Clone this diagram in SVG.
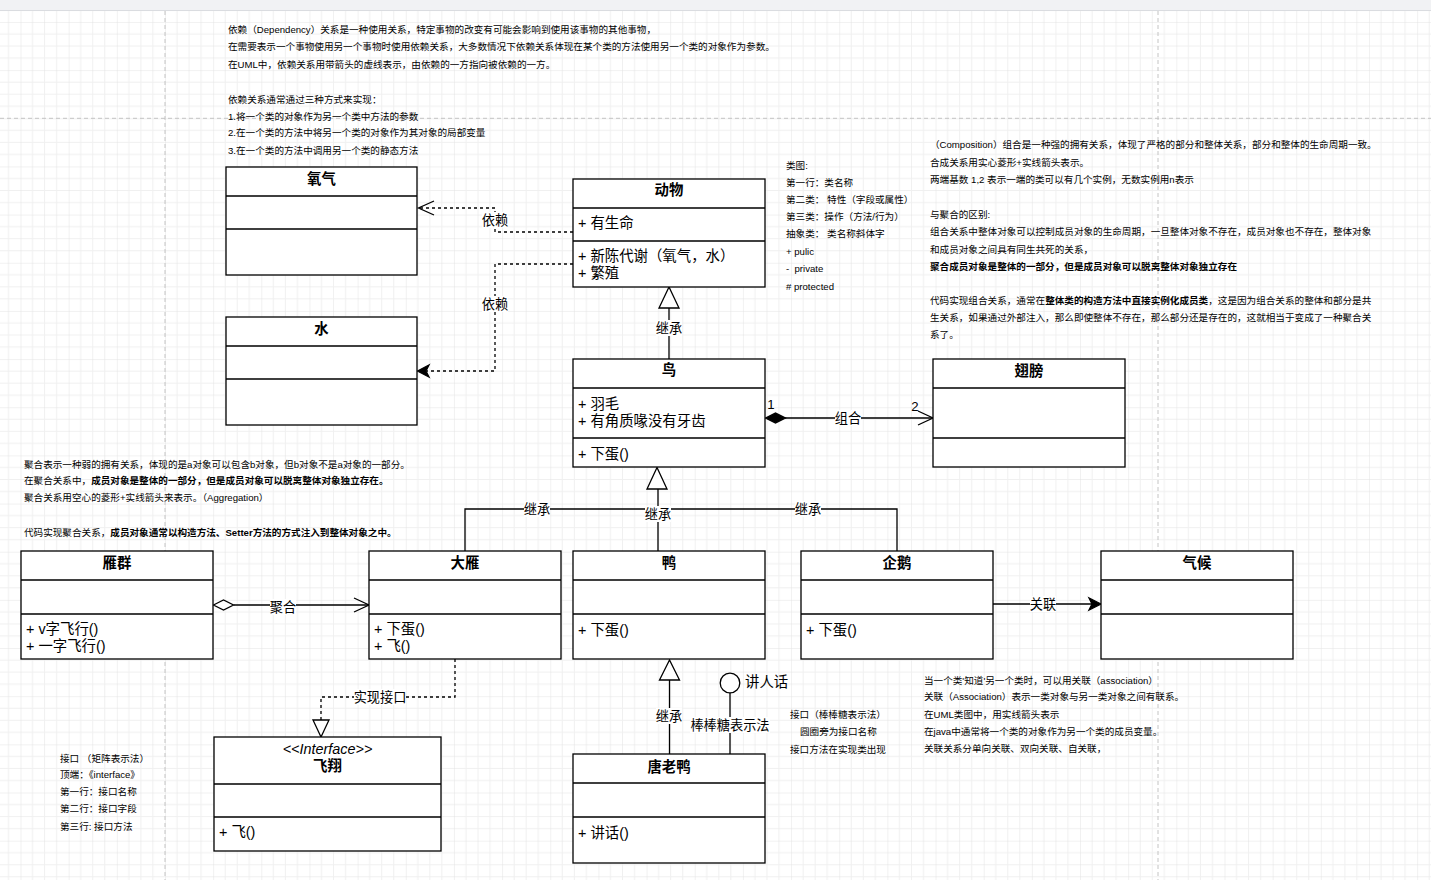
<svg xmlns="http://www.w3.org/2000/svg" width="1431" height="880" viewBox="0 0 1431 880">
<defs>
<pattern id="grid" x="20.5" y="-26.2" width="48.16" height="48.16" patternUnits="userSpaceOnUse">
<path d="M12.04 0V48.16M24.08 0V48.16M36.12 0V48.16M0 12.04H48.16M0 24.08H48.16M0 36.12H48.16" stroke="#f0f0f0" stroke-width="1" fill="none"/>
<path d="M0 0V48.16M0 0H48.16" stroke="#e3e3e3" stroke-width="1" fill="none"/>
</pattern>
<style>
text { font-family: "Liberation Sans", "Noto Sans CJK SC", sans-serif; fill: #000; }
.box { fill: #fff; stroke: #000; stroke-width: 1.3; }
.sep { stroke: #000; stroke-width: 1.3; fill: none; }
.h { font-size: 14.4px; font-weight: bold; text-anchor: middle; }
.m { font-size: 14.4px; }
.s { font-size: 9.6px; }
.b { font-weight: bold; }
.lbl { font-size: 13.2px; text-anchor: middle; }
.lblbg { fill: #fff; }
.ln { stroke: #000; stroke-width: 1.3; fill: none; }
.dash { stroke: #000; stroke-width: 1.3; fill: none; stroke-dasharray: 3 3; }
.pb { stroke: #c4c4c4; stroke-width: 1; stroke-dasharray: 4 3; fill: none; }
</style>
</defs>

<rect x="0" y="0" width="1431" height="880" fill="#fff"/>
<rect x="0" y="11" width="1431" height="869" fill="url(#grid)"/>
<rect x="0" y="0" width="1431" height="10.5" fill="#f1f2f4"/>
<line x1="0" y1="10.5" x2="1431" y2="10.5" stroke="#dadce0"/>
<path class="pb" d="M165 11V880M1158 11V880M0 118.3H1431"/>

<g id="notes">
<text class="s" x="228" y="32.5">依赖（Dependency）关系是一种使用关系，特定事物的改变有可能会影响到使用该事物的其他事物，</text>
<text class="s" x="228" y="49.5">在需要表示一个事物使用另一个事物时使用依赖关系，大多数情况下依赖关系体现在某个类的方法使用另一个类的对象作为参数。</text>
<text class="s" x="228" y="67.5">在UML中，依赖关系用带箭头的虚线表示，由依赖的一方指向被依赖的一方。</text>
<text class="s" x="228" y="102.5">依赖关系通常通过三种方式来实现：</text>
<text class="s" x="228" y="119.5">1.将一个类的对象作为另一个类中方法的参数</text>
<text class="s" x="228" y="135.5">2.在一个类的方法中将另一个类的对象作为其对象的局部变量</text>
<text class="s" x="228" y="153.5">3.在一个类的方法中调用另一个类的静态方法</text>

<text class="s" x="786" y="168.5">类图:</text>
<text class="s" x="786" y="185.5">第一行：类名称</text>
<text class="s" x="786" y="202.5">第二类： 特性（字段或属性）</text>
<text class="s" x="786" y="219.5">第三类：操作（方法/行为）</text>
<text class="s" x="786" y="236.5">抽象类： 类名称斜体字</text>
<text class="s" x="786" y="254.5">+ pulic</text>
<text class="s" x="786" y="271.5">-&#160; private</text>
<text class="s" x="786" y="289.5"># protected</text>

<text class="s" x="930" y="147.5">（Composition）组合是一种强的拥有关系，体现了严格的部分和整体关系，部分和整体的生命周期一致。</text>
<text class="s" x="930" y="165.5">合成关系用实心菱形+实线箭头表示。</text>
<text class="s" x="930" y="182.5">两端基数 1,2 表示一端的类可以有几个实例，无数实例用n表示</text>
<text class="s" x="930" y="217.5">与聚合的区别:</text>
<text class="s" x="930" y="234.5">组合关系中整体对象可以控制成员对象的生命周期，一旦整体对象不存在，成员对象也不存在，整体对象</text>
<text class="s" x="930" y="252.5">和成员对象之间具有同生共死的关系，</text>
<text class="s b" x="930" y="269.5">聚合成员对象是整体的一部分，但是成员对象可以脱离整体对象独立存在</text>
<text class="s" x="930" y="303.5">代码实现组合关系，通常在<tspan class="b">整体类的构造方法中直接实例化成员类</tspan>，这是因为组合关系的整体和部分是共</text>
<text class="s" x="930" y="320.5">生关系，如果通过外部注入，那么即使整体不存在，那么部分还是存在的，这就相当于变成了一种聚合关</text>
<text class="s" x="930" y="337.5">系了。</text>

<text class="s" x="24" y="467.5">聚合表示一种弱的拥有关系，体现的是a对象可以包含b对象，但b对象不是a对象的一部分。</text>
<text class="s" x="24" y="483.5">在聚合关系中，<tspan class="b">成员对象是整体的一部分，但是成员对象可以脱离整体对象独立存在。</tspan></text>
<text class="s" x="24" y="500.5">聚合关系用空心的菱形+实线箭头来表示。（Aggregation）</text>
<text class="s" x="24" y="535.5">代码实现聚合关系，<tspan class="b">成员对象通常以构造方法、Setter方法的方式注入到整体对象之中。</tspan></text>

<text class="s" x="60" y="761.5">接口 （矩阵表示法）</text>
<text class="s" x="60" y="777.5">顶端：《interface》</text>
<text class="s" x="60" y="794.5">第一行：接口名称</text>
<text class="s" x="60" y="811.5">第二行：接口字段</text>
<text class="s" x="60" y="829.5">第三行: 接口方法</text>

<text class="s" x="790" y="717.5">接口（棒棒糖表示法）</text>
<text class="s" x="800" y="734.5">圆圈旁为接口名称</text>
<text class="s" x="790" y="752.5">接口方法在实现类出现</text>

<text class="s" x="924" y="683.5">当一个类'知道'另一个类时，可以用关联（association）</text>
<text class="s" x="924" y="699.5">关联（Association）表示一类对象与另一类对象之间有联系。</text>
<text class="s" x="924" y="717.5">在UML类图中，用实线箭头表示</text>
<text class="s" x="924" y="734.5">在java中通常将一个类的对象作为另一个类的成员变量。</text>
<text class="s" x="924" y="751.5">关联关系分单向关联、双向关联、自关联，</text>
</g>

<g id="connectors">
<path class="dash" d="M573 232H495V208H419"/>
<path class="ln" d="M434 201L418.5 208L434 215"/>
<rect class="lblbg" x="482" y="212" width="26" height="16"/>
<text class="lbl" x="495" y="224.5">依赖</text>
<path class="dash" d="M573 264H495V371H427"/>
<polygon points="417.5,371 429,365 426,371 429,377" fill="#000" stroke="#000" stroke-width="1.3"/>
<rect class="lblbg" x="482" y="296" width="26" height="16"/>
<text class="lbl" x="495" y="308.5">依赖</text>
<path class="ln" d="M669 359V308"/>
<polygon points="669,287 659,308 679,308" fill="#fff" stroke="#000" stroke-width="1.3"/>
<rect class="lblbg" x="656" y="320" width="26" height="16"/>
<text class="lbl" x="669" y="332.5">继承</text>
<polygon points="765.5,418 775.5,413 785.5,418 775.5,423" fill="#000" stroke="#000" stroke-width="1.3"/>
<path class="ln" d="M785 418H932"/>
<path class="ln" d="M918 411L933 418L918 425"/>
<rect class="lblbg" x="835" y="410" width="26" height="16"/>
<text class="lbl" x="848" y="422.5">组合</text>
<text class="lbl" x="771" y="409">1</text>
<text class="lbl" x="915" y="411">2</text>
<path class="ln" d="M465 551V509H897V551M658 551V489"/>
<polygon points="657,467.5 647,489 667,489" fill="#fff" stroke="#000" stroke-width="1.3"/>
<rect class="lblbg" x="524" y="501" width="26" height="16"/>
<text class="lbl" x="537" y="513.5">继承</text>
<rect class="lblbg" x="645" y="506" width="26" height="16"/>
<text class="lbl" x="658" y="518.5">继承</text>
<rect class="lblbg" x="795" y="501" width="26" height="16"/>
<text class="lbl" x="808" y="513.5">继承</text>
<polygon points="213.5,605 223.5,600 233.5,605 223.5,610" fill="#fff" stroke="#000" stroke-width="1.3"/>
<path class="ln" d="M233.5 605H368"/>
<path class="ln" d="M354 598L369 605L354 612"/>
<rect class="lblbg" x="270" y="599" width="26" height="16"/>
<text class="lbl" x="283" y="611.5">聚合</text>
<path class="dash" d="M455 659V697H321V720"/>
<polygon points="321,737 313,720 329,720" fill="#fff" stroke="#000" stroke-width="1.3"/>
<rect class="lblbg" x="354" y="689" width="52" height="16"/>
<text class="lbl" x="380" y="701.5">实现接口</text>
<path class="ln" d="M669.5 754V680"/>
<polygon points="669.5,660 659.5,680 679.5,680" fill="#fff" stroke="#000" stroke-width="1.3"/>
<rect class="lblbg" x="656" y="708" width="26" height="16"/>
<text class="lbl" x="669" y="720.5">继承</text>
<path class="ln" d="M730 754V693"/>
<circle cx="730" cy="683" r="9.8" fill="#fff" stroke="#000" stroke-width="1.3"/>
<text class="m" x="745" y="687">讲人话</text>
<rect class="lblbg" x="690" y="717" width="80" height="16"/>
<text class="lbl" x="730" y="729.5">棒棒糖表示法</text>
<path class="ln" d="M993 604H1092"/>
<polygon points="1101,604 1089,598 1092,604 1089,610" fill="#000" stroke="#000" stroke-width="1.3"/>
<rect class="lblbg" x="1030" y="596" width="26" height="16"/>
<text class="lbl" x="1043" y="608.5">关联</text>
</g>

<g id="node-yangqi">
<rect class="box" x="226" y="167" width="191" height="108"/>
<path class="sep" d="M226 196H417M226 229H417"/>
<text class="h" x="321.5" y="184">氧气</text>
</g>
<g id="node-shui">
<rect class="box" x="226" y="317" width="191" height="108"/>
<path class="sep" d="M226 346H417M226 379H417"/>
<text class="h" x="321.5" y="334">水</text>
</g>
<g id="node-dongwu">
<rect class="box" x="573" y="179" width="192" height="108"/>
<path class="sep" d="M573 208H765M573 241H765"/>
<text class="h" x="669" y="195">动物</text>
<text class="m" x="578" y="228">+ 有生命</text>
<text class="m" x="578" y="261">+ 新陈代谢（氧气，水）</text>
<text class="m" x="578" y="278">+ 繁殖</text>
</g>
<g id="node-niao">
<rect class="box" x="573" y="359" width="192" height="108"/>
<path class="sep" d="M573 388H765M573 438H765"/>
<text class="h" x="669" y="375">鸟</text>
<text class="m" x="578" y="409">+ 羽毛</text>
<text class="m" x="578" y="426">+ 有角质喙没有牙齿</text>
<text class="m" x="578" y="459">+ 下蛋()</text>
</g>
<g id="node-chibang">
<rect class="box" x="933" y="359" width="192" height="108"/>
<path class="sep" d="M933 388H1125M933 438H1125"/>
<text class="h" x="1029" y="376">翅膀</text>
</g>
<g id="node-yanqun">
<rect class="box" x="21" y="551" width="192" height="108"/>
<path class="sep" d="M21 580H213M21 614H213"/>
<text class="h" x="117" y="568">雁群</text>
<text class="m" x="26" y="634">+ v字飞行()</text>
<text class="m" x="26" y="651">+ 一字飞行()</text>
</g>
<g id="node-dayan">
<rect class="box" x="369" y="551" width="192" height="108"/>
<path class="sep" d="M369 580H561M369 614H561"/>
<text class="h" x="465" y="568">大雁</text>
<text class="m" x="374" y="634">+ 下蛋()</text>
<text class="m" x="374" y="651">+ 飞()</text>
</g>
<g id="node-ya">
<rect class="box" x="573" y="551" width="192" height="108"/>
<path class="sep" d="M573 580H765M573 614H765"/>
<text class="h" x="669" y="568">鸭</text>
<text class="m" x="578" y="635">+ 下蛋()</text>
</g>
<g id="node-qie">
<rect class="box" x="801" y="551" width="192" height="108"/>
<path class="sep" d="M801 580H993M801 614H993"/>
<text class="h" x="897" y="568">企鹅</text>
<text class="m" x="806" y="635">+ 下蛋()</text>
</g>
<g id="node-qihou">
<rect class="box" x="1101" y="551" width="192" height="108"/>
<path class="sep" d="M1101 580H1293M1101 614H1293"/>
<text class="h" x="1197" y="568">气候</text>
</g>
<g id="node-tanglaoya">
<rect class="box" x="573" y="754" width="192" height="109"/>
<path class="sep" d="M573 783H765M573 817H765"/>
<text class="h" x="669" y="772">唐老鸭</text>
<text class="m" x="578" y="838">+ 讲话()</text>
</g>
<g id="node-feixiang">
<rect class="box" x="214" y="737" width="227" height="114"/>
<path class="sep" d="M214 784H441M214 817H441"/>
<text class="m" x="327.5" y="754" text-anchor="middle" font-style="italic">&lt;&lt;Interface&gt;&gt;</text>
<text class="h" x="327.5" y="771">飞翔</text>
<text class="m" x="219" y="837">+ 飞()</text>
</g>
</svg>
